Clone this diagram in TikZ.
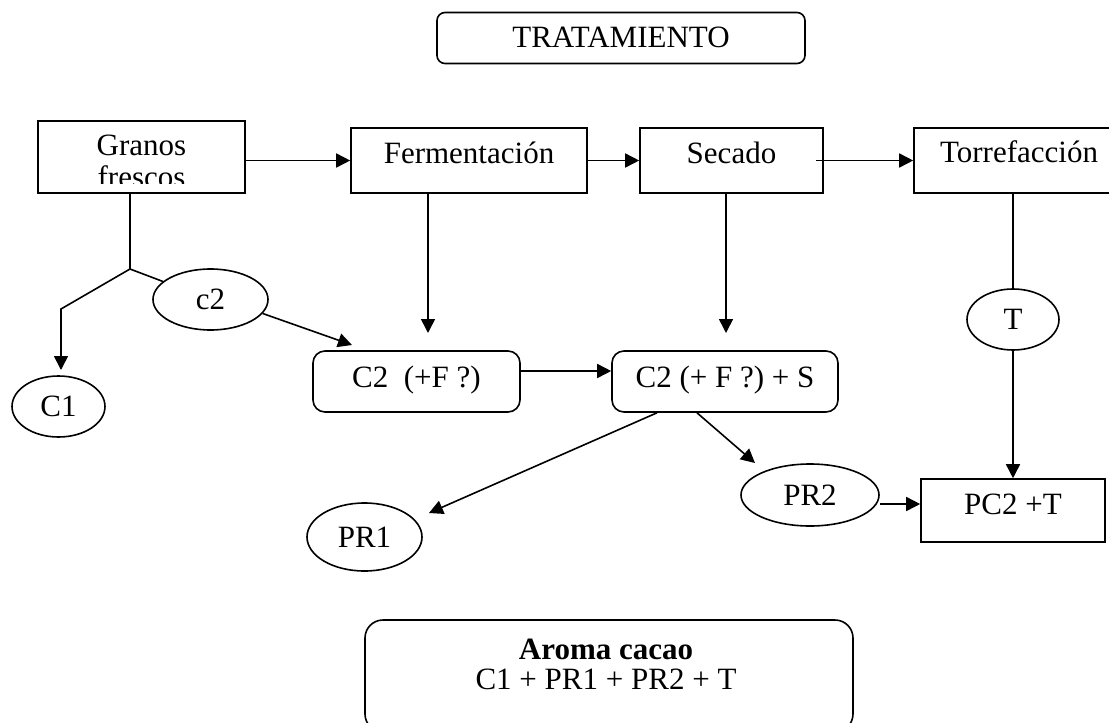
\documentclass[tikz,border=0pt]{standalone}
\usepackage{fontspec}
\setmainfont{Liberation Serif}
\usetikzlibrary{shapes.geometric,arrows.meta}
\tikzset{
  ln/.style={line width=1.6pt, draw=black},
  arr/.style={ln, -{Triangle[length=14pt,width=14pt]}},
  txt/.style={font=\fontsize{31}{35}\selectfont, text height=20.5pt, inner sep=0pt},
  box/.style={txt, draw=black, line width=1.6pt, rectangle},
  rbox/.style={box, rounded corners=12pt},
  ell/.style={txt, draw=black, line width=1.6pt, ellipse, text depth=0pt}
}
\begin{document}
\begin{tikzpicture}[x=1pt,y=-1pt]
\useasboundingbox (0,0) rectangle (1109,723);
% top title
\node[box, rounded corners=8pt, minimum width=368pt, minimum height=51pt, text depth=2pt] (trat) at (621,38) {TRATAMIENTO};
% first row
\node[box, minimum width=207pt, minimum height=72pt] (granos) at (141.5,157) {};
\begin{scope}
\clip (40,123) rectangle (243,183);
\node[txt, anchor=base] (granos1) at (141.5,155) {Granos};
\node[txt, anchor=base] (granos2) at (141.5,187) {frescos};
\end{scope}
\node[box, minimum width=236pt, minimum height=65pt, text depth=15pt] (ferm) at (469,160.5) {Fermentación};
\node[box, minimum width=183pt, minimum height=65pt, text depth=15pt] (secado) at (731.5,160.5) {Secado};
\node[box, minimum width=210pt, minimum height=65pt, text depth=17pt] (torre) at (1019,160.5) {Torrefacción};
% middle row
\node[ell, minimum width=115pt, minimum height=61pt] (c2) at (210.5,299.5) {c2};
\node[ell, minimum width=93pt, minimum height=61pt] (c1) at (58.5,406.5) {C1};
\node[ell, minimum width=92pt, minimum height=61pt] (T) at (1013,319.5) {T};
\node[rbox, minimum width=207pt, minimum height=61pt, text depth=9pt] (c2f) at (416.5,381.5) {C2\ \ (+F ?)};
\node[rbox, minimum width=226pt, minimum height=61pt, text depth=9pt] (c2s) at (725,381.5) {C2 (+ F ?) + S};
% lower row
\node[ell, minimum width=138pt, minimum height=62pt] (pr2) at (810,495) {PR2};
\node[ell, minimum width=115pt, minimum height=68pt] (pr1) at (364.5,537) {PR1};
\node[box, minimum width=184pt, minimum height=63pt, text depth=13pt] (pc2) at (1013,510.5) {PC2 +T};
% result box
\node[box, rounded corners=18pt, minimum width=488pt, minimum height=112pt] (aroma) at (609,676) {};
\node[txt, anchor=base, font=\fontsize{31}{35}\selectfont\bfseries] (aroma1) at (606,659) {Aroma cacao};
\node[txt, anchor=base] (aroma2) at (606,689) {C1 + PR1 + PR2 + T};
% helper coordinates
\coordinate (br) at (130,269);
\coordinate (bk) at (61,309);
\coordinate (c1tip) at (61,370);
\coordinate (c2tip) at (352,345);
\coordinate (fa) at (428,333);
\coordinate (sa) at (726,333);
\coordinate (p1tip) at (429,513);
\coordinate (p2tip) at (755,463);
% connectors
\draw[arr] (granos.east |- ferm.west) -- (ferm.west);
\draw[arr] (ferm.east) -- (secado.west);
\draw[arr] ([xshift=-8pt]secado.east) -- (torre.west);
\draw[ln] (granos.south -| br) -- (br);
\draw[ln] (br) -- (c2);
\draw[arr] (br) -- (bk) -- (c1tip);
\draw[arr] (c2.-15) -- (c2tip);
\draw[arr] (ferm.south -| fa) -- (fa);
\draw[arr] (secado.south -| sa) -- (sa);
\draw[ln] (torre.south -| T.north) -- (T.north);
\draw[arr] (T.south) -- (pc2.north);
\draw[arr] ([yshift=10.5pt]c2f.east) -- ([yshift=10.5pt]c2s.west);
\draw[arr] ([xshift=-68pt]c2s.south) -- (p1tip);
\draw[arr] ([xshift=-28pt]c2s.south) -- (p2tip);
\draw[arr] ([yshift=-9pt]pr2.east) -- ([yshift=6.5pt]pc2.west);
\end{tikzpicture}
\end{document}
